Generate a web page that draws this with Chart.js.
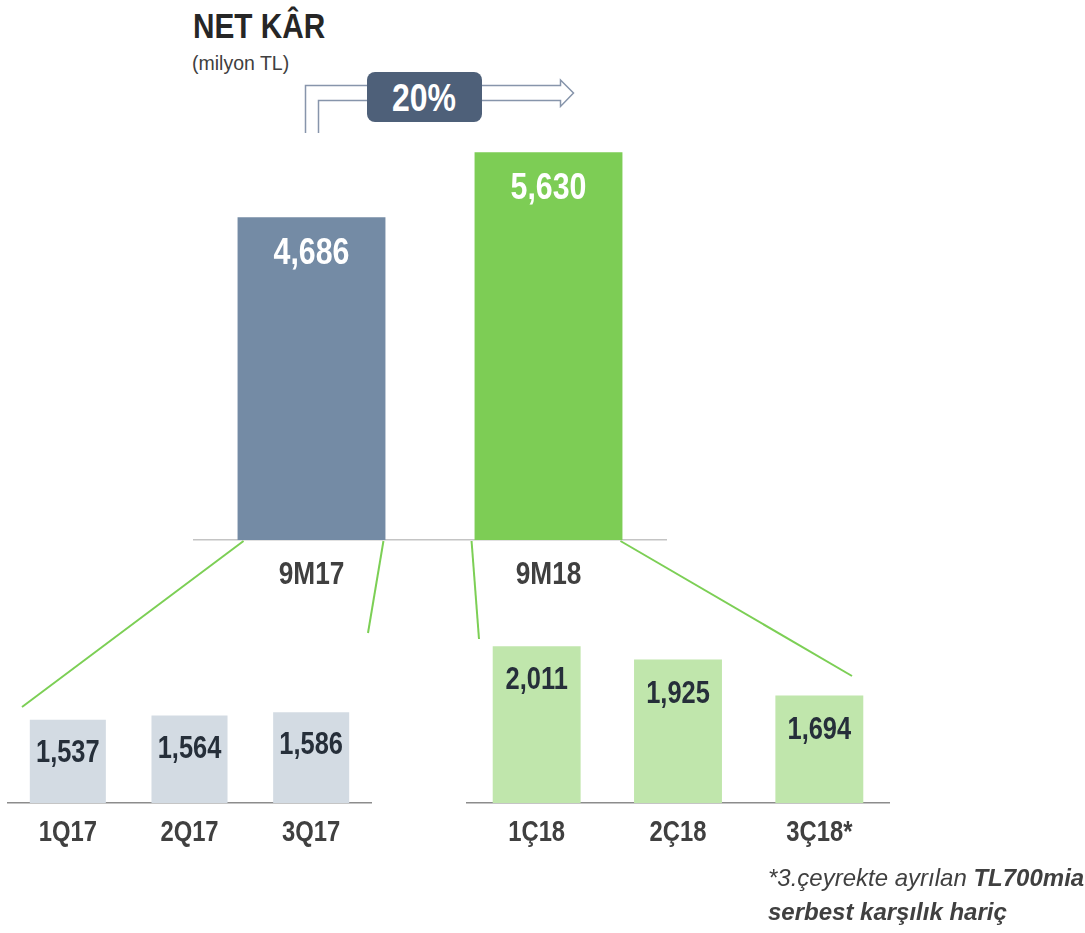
<!DOCTYPE html>
<html>
<head>
<meta charset="utf-8">
<script src="https://cdn.jsdelivr.net/npm/chart.js@4.4.1/dist/chart.umd.min.js"></script>
<style>
  html, body { margin:0; padding:0; background:#fff; }
  body { width:1085px; height:933px; position:relative; overflow:hidden;
         font-family:"Liberation Sans",Arial,sans-serif; }
  .abs { position:absolute; white-space:nowrap; }
  canvas { position:absolute; }
  .narrow { display:inline-block; transform:scaleX(0.85); transform-origin:0 50%; }
  #title { left:193px; top:8px; font-size:35px; line-height:36px; font-weight:bold; color:#262626; }
  #unit { left:192px; top:53px; font-size:19.5px; line-height:20px; color:#404040; }
  #note { left:768px; top:861px; font-size:24px; line-height:34px; font-style:italic; color:#404040; }
  #note b { font-weight:bold; }
  #growth { left:367px; top:72px; width:115px; height:50px; background:#4e6079; border-radius:8px;
            color:#fff; font-weight:bold; font-size:39px; line-height:52px; text-align:center; }
  #growth span { display:inline-block; transform:scaleX(0.82); transform-origin:50% 50%; }
</style>
</head>
<body>
<div id="title" class="abs"><span class="narrow">NET KÂR</span></div>
<div id="unit" class="abs">(milyon TL)</div>
<svg class="abs" style="left:0;top:0" width="1085" height="933" id="deco">
  <path d="M305.5 133 L305.5 85.5 L560.5 85.5 L560.5 80 L573.5 93 L560.5 106.5 L560.5 100.5 L318.5 100.5 L318.5 133"
        fill="#fff" stroke="#8795ab" stroke-width="1.5"/>
</svg>
<div id="growth" class="abs"><span id="growthText"></span></div>

<canvas id="cTop" width="474" height="470"></canvas>
<canvas id="cLeft" width="365" height="230"></canvas>
<canvas id="cRight" width="424" height="230"></canvas>
<svg class="abs" style="left:0;top:0;pointer-events:none" width="1085" height="933" id="links"></svg>

<div id="note" class="abs">*3.çeyrekte ayrılan <b>TL700mia</b><br><b>serbest karşılık hariç</b></div>

<script>
// ---- data ----
const yearCategories = ["9M17", "9M18"];
const yearValues = [4686, 5630];
const q17Categories = ["1Q17", "2Q17", "3Q17"];
const q17Values = [1537, 1564, 1586];
const q18Categories = ["1Ç18", "2Ç18", "3Ç18*"];
const q18Values = [2011, 1925, 1694];
const growthLabel = "20%";

const FONT = '"Liberation Sans",Arial,sans-serif';
const NARROW = 0.82;

function narrowText(ctx, text, x, yCenter, size) {
  ctx.save();
  ctx.font = `bold ${size}px ${FONT}`;
  ctx.textAlign = 'center';
  ctx.textBaseline = 'alphabetic';
  ctx.translate(x, yCenter + size * 0.358);
  ctx.scale(NARROW, 1);
  ctx.fillText(text, 0, 0);
  ctx.restore();
}

const barText = {
  id: 'barText',
  afterDraw(chart, args, o) {
    const ctx = chart.ctx;
    const meta = chart.getDatasetMeta(0);
    const data = chart.data.datasets[0].data;
    ctx.fillStyle = o.valueColor;
    meta.data.forEach((bar, i) => {
      narrowText(ctx, data[i].toLocaleString('en-US'), bar.x, bar.y + o.valueOffset, o.valueSize);
    });
    const xs = chart.scales.x;
    ctx.fillStyle = '#404040';
    chart.data.labels.forEach((lab, i) => {
      narrowText(ctx, lab, xs.getPixelForTick(i), chart.chartArea.bottom + o.catOffset, o.catSize);
    });
  }
};

function makeChart(id, labels, values, colors, yMin, yMax, barPct, txt, axisColor) {
  const el = document.getElementById(id);
  return new Chart(el, {
    type: 'bar',
    data: { labels, datasets: [{ data: values, backgroundColor: colors, borderWidth: 0,
                                 categoryPercentage: 1, barPercentage: barPct }] },
    options: {
      responsive: false, animation: false, devicePixelRatio: 1,
      layout: { padding: { left: 0, right: 0, top: 0, bottom: 50 } },
      plugins: { legend: { display: false }, tooltip: { enabled: false }, barText: txt },
      scales: {
        x: { grid: { display: false, drawTicks: false },
             border: { display: true, color: axisColor, width: 1.5 },
             ticks: { display: false } },
        y: { display: false, min: yMin, max: yMax }
      }
    },
    plugins: [barText]
  });
}

const topChart = makeChart('cTop', yearCategories, yearValues, ['#748ba5', '#7dcd55'],
  0, 6100, 0.624,
  { valueSize: 37, valueColor: '#ffffff', valueOffset: 33.5, catSize: 32, catOffset: 33 }, '#c4c4c4');
const leftChart = makeChart('cLeft', q17Categories, q17Values, '#d3dbe3',
  1000, 2161, 0.625,
  { valueSize: 31, valueColor: '#262f3a', valueOffset: 31, catSize: 29, catOffset: 28 }, '#8c8c8c');
const rightChart = makeChart('cRight', q18Categories, q18Values, '#c0e6ac',
  1000, 2161, 0.622,
  { valueSize: 31, valueColor: '#262f3a', valueOffset: 32, catSize: 29, catOffset: 28 }, '#8c8c8c');

function place(chart, left, baseline) {
  const c = chart.canvas;
  c.style.left = (left - chart.chartArea.left) + 'px';
  c.style.top = (baseline - chart.chartArea.bottom) + 'px';
}
place(topChart, 193, 540);
place(leftChart, 7, 803);
place(rightChart, 466, 803);

// connector lines from the yearly bars to the quarterly groups
function barBase(chart, i, side) {
  const b = chart.getDatasetMeta(0).data[i];
  const off = chart.canvas.getBoundingClientRect();
  return [off.left + b.x + side * b.width / 2, off.top + b.base];
}
const links = document.getElementById('links');
const segs = [
  [barBase(topChart, 0, -1), [22, 707], 6],
  [barBase(topChart, 0, 1), [368, 633], -2],
  [barBase(topChart, 1, -1), [479, 639], -3],
  [barBase(topChart, 1, 1), [852, 676], -2]
];
segs.forEach(([a, b, dx]) => {
  const l = document.createElementNS('http://www.w3.org/2000/svg', 'line');
  l.setAttribute('x1', a[0] + dx); l.setAttribute('y1', a[1] + 1);
  l.setAttribute('x2', b[0]); l.setAttribute('y2', b[1]);
  l.setAttribute('stroke', '#7ccf55'); l.setAttribute('stroke-width', '2');
  links.appendChild(l);
});
document.getElementById('growthText').textContent = growthLabel;
</script>
</body>
</html>
